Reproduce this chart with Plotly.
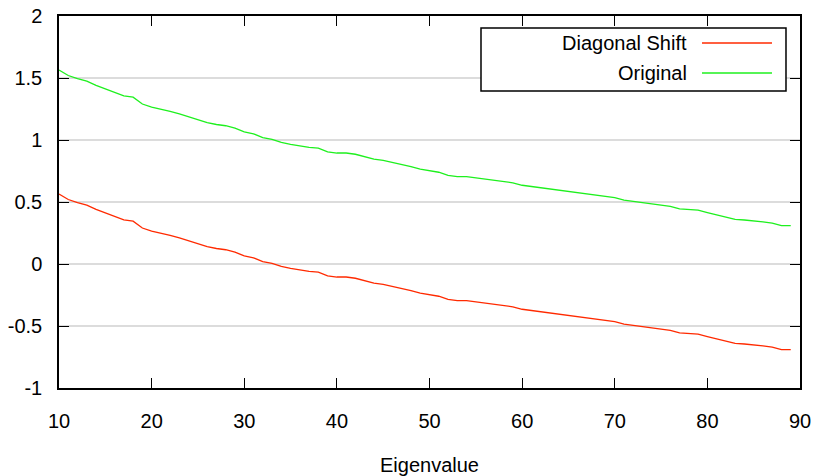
import plotly.graph_objects as go

eigen_x = list(range(10, 90))

original = [1.565, 1.52, 1.495, 1.475, 1.44, 1.41, 1.385, 1.355, 1.345, 1.29,
            1.265, 1.25, 1.23, 1.21, 1.185, 1.16, 1.14, 1.125, 1.115, 1.095,
            1.065, 1.05, 1.02, 1.005, 0.98, 0.965, 0.95, 0.94, 0.935, 0.905,
            0.895, 0.895, 0.885, 0.865, 0.845, 0.835, 0.82, 0.80, 0.785, 0.765,
            0.755, 0.74, 0.715, 0.705, 0.705, 0.695, 0.685, 0.67, 0.665, 0.655,
            0.635, 0.625, 0.615, 0.605, 0.59, 0.585, 0.575, 0.565, 0.555, 0.545,
            0.535, 0.515, 0.505, 0.495, 0.485, 0.475, 0.465, 0.445, 0.44, 0.435,
            0.415, 0.395, 0.375, 0.36, 0.355, 0.35, 0.34, 0.33, 0.31, 0.31]

diagonal_shift = [0.565, 0.52, 0.495, 0.475, 0.44, 0.41, 0.385, 0.355, 0.345, 0.29,
                  0.265, 0.25, 0.23, 0.21, 0.185, 0.16, 0.14, 0.125, 0.115, 0.095,
                  0.065, 0.05, 0.02, 0.005, -0.02, -0.035, -0.05, -0.06, -0.065, -0.095,
                  -0.105, -0.105, -0.115, -0.135, -0.155, -0.165, -0.18, -0.20, -0.215, -0.235,
                  -0.245, -0.26, -0.285, -0.295, -0.295, -0.305, -0.315, -0.33, -0.335, -0.345,
                  -0.365, -0.375, -0.385, -0.395, -0.41, -0.415, -0.425, -0.435, -0.445, -0.455,
                  -0.465, -0.485, -0.495, -0.505, -0.515, -0.525, -0.535, -0.555, -0.56, -0.565,
                  -0.585, -0.605, -0.625, -0.64, -0.645, -0.65, -0.66, -0.67, -0.69, -0.69]

x_ticks = [10, 20, 30, 40, 50, 60, 70, 80, 90]
y_ticks = [-1, -0.5, 0, 0.5, 1, 1.5, 2]
y_tick_text = ["-1", "-0.5", "0", "0.5", "1", "1.5", "2"]

series_names = ["Diagonal Shift", "Original"]
series_colors = ["#ff2a00", "#1ef01e"]

FONT = "Liberation Sans, Arial, Helvetica, sans-serif"
FS = 20

fig = go.Figure()
for name, ys, col in zip(series_names, [diagonal_shift, original], series_colors):
    fig.add_trace(go.Scatter(x=eigen_x, y=ys, mode="lines", name=name,
                             line=dict(color=col, width=1.3), showlegend=False))

axis_common = dict(showline=True, linecolor="black", linewidth=1.5, mirror="ticks",
                   ticks="inside", ticklen=10, tickwidth=1.3, tickcolor="black",
                   zeroline=False, automargin=False,
                   tickfont=dict(family=FONT, size=FS, color="black"))

fig.update_xaxes(range=[10, 90], tickvals=x_ticks, showgrid=False,
                 ticklabelstandoff=14, **axis_common)
fig.update_yaxes(range=[-1, 2], tickvals=y_ticks, ticktext=y_tick_text,
                 showgrid=True, gridcolor="#dcdcdc", gridwidth=1.5,
                 ticklabelstandoff=11, **axis_common)

# Legend box (gnuplot style: text then line sample)
lx0, lx1, ly0, ly1 = 0.5695, 0.9811, 0.7984, 0.9677
fig.add_shape(type="rect", xref="paper", yref="paper", x0=lx0, x1=lx1, y0=ly0, y1=ly1,
              line=dict(color="black", width=1.5), fillcolor="white", layer="above")
rows_y = [0.9274, 0.8468]
for name, col, ry in zip(series_names, series_colors, rows_y):
    fig.add_annotation(xref="paper", yref="paper", x=0.8502, y=ry, text=name,
                       showarrow=False, xanchor="right", yanchor="middle",
                       font=dict(family=FONT, size=FS, color="black"))
    fig.add_shape(type="line", xref="paper", yref="paper", x0=0.8677, x1=0.9622,
                  y0=ry, y1=ry, line=dict(color=col, width=1.3), layer="above")

fig.add_annotation(xref="paper", yref="paper", x=0.5, y=-0.207, text="Eigenvalue",
                   showarrow=False, xanchor="center", yanchor="middle",
                   font=dict(family=FONT, size=FS, color="black"))

fig.update_layout(width=816, height=476, margin=dict(l=59, r=16, t=16, b=88),
                  plot_bgcolor="white", paper_bgcolor="white")

fig.write_html("out.html")
